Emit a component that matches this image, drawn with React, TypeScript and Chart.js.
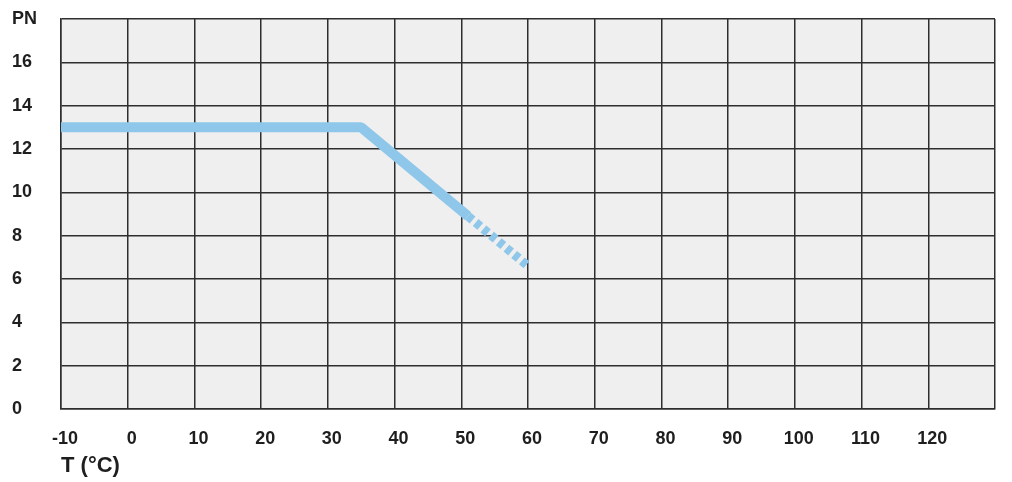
import React, { useEffect, useRef } from 'react';
import { Chart, registerables } from 'chart.js';

Chart.register(...registerables);

// temperature (°C) vs nominal pressure (PN)
const solidTemps = [-10, 35, 51];
const solidPN = [13, 13, 8.9];
const dashedTemps = [51, 60];
const dashedPN = [8.9, 6.6];

const xMin = -10;
const xMax = 130;
const yMax = 18;
const lineColor = '#8ec7e9';
const gridColor = '#2e2e2e';
const textColor = '#1e1e1e';

const plotBackground = {
  id: 'plotBackground',
  beforeDraw(chart: Chart) {
    const { ctx, chartArea } = chart;
    ctx.save();
    ctx.fillStyle = '#efefef';
    ctx.fillRect(chartArea.left, chartArea.top, chartArea.right - chartArea.left, chartArea.bottom - chartArea.top);
    ctx.restore();
  },
};

const App: React.FC = () => {
  const chartRef = useRef<HTMLCanvasElement | null>(null);

  useEffect(() => {
    const ctx = chartRef.current?.getContext('2d');
    if (!ctx) return;

    const chart = new Chart(ctx, {
      type: 'line',
      data: {
        datasets: [
          {
            data: solidTemps.map((t, i) => ({ x: t, y: solidPN[i] })),
            borderColor: lineColor,
            borderWidth: 10,
            pointRadius: 0,
            borderJoinStyle: 'bevel',
            tension: 0,
          },
          {
            data: dashedTemps.map((t, i) => ({ x: t, y: dashedPN[i] })),
            borderColor: lineColor,
            borderWidth: 9,
            borderDash: [6, 4],
            pointRadius: 0,
            tension: 0,
          },
        ],
      },
      options: {
        animation: false,
        responsive: true,
        maintainAspectRatio: false,
        layout: { padding: { left: 12, top: 19, right: 17, bottom: 0 } },
        plugins: {
          legend: { display: false },
          tooltip: { enabled: false },
        },
        scales: {
          x: {
            type: 'linear',
            min: xMin,
            max: xMax,
            border: { display: true, color: gridColor, width: 1.5 },
            grid: { color: gridColor, lineWidth: 1.5, drawTicks: false },
            ticks: {
              stepSize: 10,
              padding: 19,
              labelOffset: 4,
              color: textColor,
              font: { family: "'Liberation Sans', Arial, sans-serif", size: 18, weight: 'bold' },
              callback: (v) => (Number(v) === xMax ? '' : String(v)),
            },
            title: {
              display: true,
              text: 'T (°C)',
              align: 'start',
              color: textColor,
              padding: { top: 0, bottom: 3 },
              font: { family: "'Liberation Sans', Arial, sans-serif", size: 22, weight: 'bold' },
            },
            afterFit: (scale) => {
              scale.height = 73;
              scale.paddingRight = 0;
              scale.paddingLeft = 0;
            },
          },
          y: {
            min: 0,
            max: yMax,
            border: { display: true, color: gridColor, width: 1.5 },
            grid: { color: gridColor, lineWidth: 1.5, drawTicks: false },
            ticks: {
              stepSize: 2,
              crossAlign: 'far',
              color: textColor,
              font: { family: "'Liberation Sans', Arial, sans-serif", size: 18, weight: 'bold' },
              callback: (v) => (Number(v) === yMax ? 'PN' : String(v)),
            },
            afterFit: (scale) => {
              scale.width = 49;
            },
          },
        },
      },
      plugins: [plotBackground],
    });

    return () => {
      chart.destroy();
    };
  }, []);

  return (
    <div style={{ position: 'absolute', left: 0, top: 0, width: 1012, height: 482, background: '#fff' }}>
      <canvas ref={chartRef} />
    </div>
  );
};

export default App;
